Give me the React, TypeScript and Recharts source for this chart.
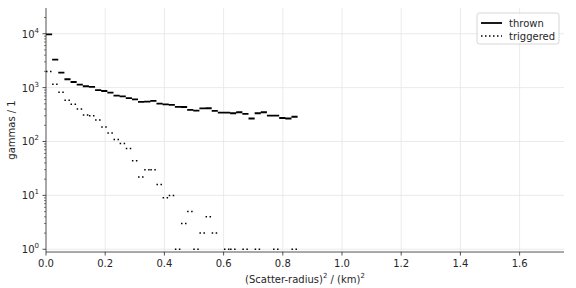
import { LineChart, Line, XAxis, YAxis, ReferenceLine } from "recharts"

// histogram bins: 41 bins of equal width from 0 to 0.85 km^2
const binCount = 41
const binWidth = 0.85 / binCount

const thrown = [
  9700, 3300, 1900, 1430, 1270, 1140, 1060, 1030, 900, 865,
  808, 710, 690, 640, 607, 545, 550, 566, 506, 490,
  480, 440, 437, 385, 375, 410, 414, 369, 344, 344,
  334, 349, 325, 267, 334, 349, 302, 302, 273, 267,
  288
]

const triggered = [
  2000, 1150, 820, 580, 490, 400, 310, 300, 250, 185,
  143, 109, 92, 74, 44, 22, 30, 30, 16, 9,
  10, 1, 3, 5, 1, 2, 4, 2, 0, 1,
  1, 0, 1, 0, 1, 0, 0, 1, 0, 0,
  1
]

const xTicks = [0, 0.2, 0.4, 0.6, 0.8, 1.0, 1.2, 1.4, 1.6]
const yMajor = [1, 10, 100, 1000, 10000]
const yMinor = yMajor.flatMap((d) => [2, 3, 4, 5, 6, 7, 8, 9].map((m) => m * d)).filter((v) => v < 30000)

const W = 576
const H = 288
const FONT = "DejaVu Sans, sans-serif"
const AXIS = "#262626"
const GRID = "#e6e6e6"

// horizontal segment per bin, broken by nulls so there are no risers
function steps(values: number[]) {
  const out: { x: number; y: number | null }[] = []
  values.forEach((v, i) => {
    if (v <= 0) return
    const x0 = i * binWidth
    const x1 = (i + 1) * binWidth
    out.push({ x: x0, y: v }, { x: x1, y: v }, { x: x1, y: null })
  })
  return out
}

function XTick({ x, y, payload }: any) {
  return (
    <g>
      <line x1={x} x2={x} y1={y} y2={y + 3.5} stroke={AXIS} strokeWidth={0.8} />
      <text x={x} y={y + 15} textAnchor="middle" fontSize={10} fontFamily={FONT} fill={AXIS}>
        {payload.value.toFixed(1)}
      </text>
    </g>
  )
}

function YTick({ x, y, payload }: any) {
  const v = payload.value
  const exp = Math.round(Math.log10(v))
  const major = Math.abs(Math.pow(10, exp) - v) < 1e-6
  if (!major) {
    return <line x1={x - 2} x2={x} y1={y} y2={y} stroke={AXIS} strokeWidth={0.6} />
  }
  return (
    <g>
      <line x1={x - 3.5} x2={x} y1={y} y2={y} stroke={AXIS} strokeWidth={0.8} />
      <text x={x - 7} y={y + 4} textAnchor="end" fontSize={10} fontFamily={FONT} fill={AXIS}>
        <tspan>10</tspan>
        <tspan dy={-5} fontSize={7}>{exp}</tspan>
      </text>
    </g>
  )
}

export default function App() {
  const thrownSteps = steps(thrown)
  const triggeredSteps = steps(triggered)

  return (
    <div style={{ position: "fixed", left: 0, top: 0, width: W, height: H, background: "#fff" }}>
      <LineChart width={W} height={H} margin={{ top: 8, right: 12, bottom: 0, left: 0 }}>
        <XAxis
          type="number"
          dataKey="x"
          domain={[0, 1.75]}
          ticks={xTicks}
          allowDataOverflow
          height={36}
          tickSize={0}
          tickMargin={0}
          tickLine={false}
          tick={<XTick />}
          stroke={AXIS}
          strokeWidth={0.8}
        />
        <YAxis
          type="number"
          scale="log"
          domain={[0.89, 30000]}
          ticks={[...yMajor, ...yMinor]}
          allowDataOverflow
          width={46}
          tickSize={0}
          tickMargin={0}
          tickLine={false}
          tick={<YTick />}
          stroke={AXIS}
          strokeWidth={0.8}
          interval={0}
        />

        {xTicks.filter((t) => t > 0).map((t) => (
          <ReferenceLine key={"gx" + t} x={t} stroke={GRID} strokeWidth={0.8} />
        ))}
        {yMajor.map((t) => (
          <ReferenceLine key={"gy" + t} y={t} stroke={GRID} strokeWidth={0.8} />
        ))}

        <Line
          data={thrownSteps}
          dataKey="y"
          name="thrown"
          type="linear"
          stroke="#000"
          strokeWidth={1.8}
          dot={false}
          activeDot={false}
          isAnimationActive={false}
        />
        <Line
          data={triggeredSteps}
          dataKey="y"
          name="triggered"
          type="linear"
          stroke="#000"
          strokeWidth={1.5}
          strokeDasharray="1.5 2.5"
          dot={false}
          activeDot={false}
          isAnimationActive={false}
        />
      </LineChart>

      <svg width={W} height={H} style={{ position: "absolute", left: 0, top: 0, pointerEvents: "none" }}>
        <text x={305} y={283} textAnchor="middle" fontSize={10} fontFamily={FONT} fill={AXIS}>
          <tspan>(Scatter-radius)</tspan>
          <tspan dy={-5} fontSize={7}>2</tspan>
          <tspan dy={5}> / (km)</tspan>
          <tspan dy={-5} fontSize={7}>2</tspan>
        </text>
        <text
          x={15}
          y={130}
          textAnchor="middle"
          fontSize={10}
          fontFamily={FONT}
          fill={AXIS}
          transform="rotate(-90 15 130)"
        >
          gammas / 1
        </text>

        <rect x={477} y={13} width={82} height={31} rx={2.5} fill="#fff" fillOpacity={0.8} stroke="#cccccc" strokeWidth={0.8} />
        <line x1={481} x2={502} y1={23} y2={23} stroke="#000" strokeWidth={1.8} />
        <text x={509} y={26.5} fontSize={10} fontFamily={FONT} fill={AXIS}>thrown</text>
        <line x1={481} x2={502} y1={36} y2={36} stroke="#000" strokeWidth={1.5} strokeDasharray="1.5 2.5" />
        <text x={509} y={39.5} fontSize={10} fontFamily={FONT} fill={AXIS}>triggered</text>
      </svg>
    </div>
  )
}
